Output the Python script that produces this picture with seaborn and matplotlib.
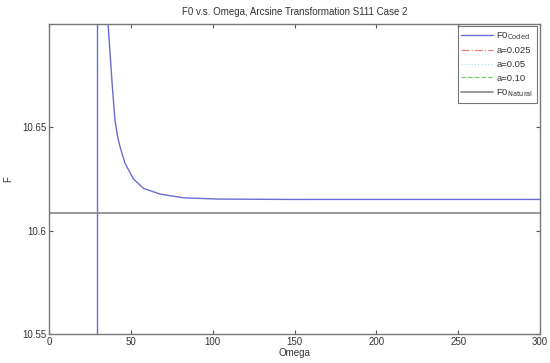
import matplotlib
matplotlib.use("Agg")
import matplotlib.pyplot as plt
import seaborn as sns
import pandas as pd

# Data
omega = [35.4, 36.2, 37.3, 38.7, 40.3, 42.0, 43.4, 46.4, 51.5, 57.6, 67.8, 82.1,
         102.5, 122.8, 150, 200, 250, 300]
f0_coded = [10.703, 10.6985, 10.6856, 10.6695, 10.6534, 10.6450, 10.6405, 10.6325,
            10.6250, 10.6204, 10.6176, 10.6158, 10.6152, 10.6151, 10.6150, 10.6150,
            10.6150, 10.6150]
omega_pole = 29.2
f0_natural = 10.6086
x_ticks = [0, 50, 100, 150, 200, 250, 300]
y_ticks = [10.55, 10.6, 10.65]
y_tick_labels = ["10.55", "10.6", "10.65"]

sns.set_theme(style="ticks")
plt.rcParams["font.family"] = ["Liberation Sans", "DejaVu Sans"]

fig = plt.figure(figsize=(5.5, 3.63), dpi=100)
ax = fig.add_axes([49 / 550, 1 - 334 / 363, (540 - 49) / 550, (334 - 23.5) / 363])

df = pd.DataFrame({"Omega": omega, "F": f0_coded})
sns.lineplot(data=df, x="Omega", y="F", ax=ax, color="#6b6bd6", lw=1.0,
             label=r"F0$_{\mathrm{Coded}}$")
ax.plot([], [], color="#e88080", ls="-.", lw=0.9, label="a=0.025")
ax.plot([], [], color="#a0e8f0", ls=":", lw=0.9, label="a=0.05")
ax.plot([], [], color="#70d070", ls="--", lw=0.9, label="a=0.10")
ax.axvline(omega_pole, color="#6b6bd6", lw=1.0)
ax.axhline(f0_natural, color="#888888", lw=1.2, label=r"F0$_{\mathrm{Natural}}$")

ax.set_xlim(0, 300)
ax.set_ylim(10.55, 10.70)
ax.set_xticks(x_ticks)
ax.set_yticks(y_ticks)
ax.set_yticklabels(y_tick_labels)
ax.tick_params(direction="in", top=True, right=True, labelsize=7, length=3,
               color="#555555", labelcolor="#333333", width=0.8, pad=2)
for s in ax.spines.values():
    s.set_color("#777777")
    s.set_linewidth(1.0)

ax.set_xlabel("Omega", fontsize=7, color="#333333", labelpad=1)
ax.set_ylabel("F", fontsize=7, color="#333333", labelpad=6)
ax.set_title("F0 v.s. Omega, Arcsine Transformation S111 Case 2", fontsize=7,
             color="#333333", pad=6)

leg = ax.legend(loc="upper right", fontsize=6.8, frameon=True, fancybox=False,
                borderaxespad=0.3, handlelength=3.4, labelspacing=0.5,
                handletextpad=0.3, borderpad=0.4)
leg.get_frame().set_edgecolor("#555555")
leg.get_frame().set_linewidth(0.8)
for t in leg.get_texts():
    t.set_color("#333333")

fig.savefig("out.png", dpi=100, facecolor="white")
